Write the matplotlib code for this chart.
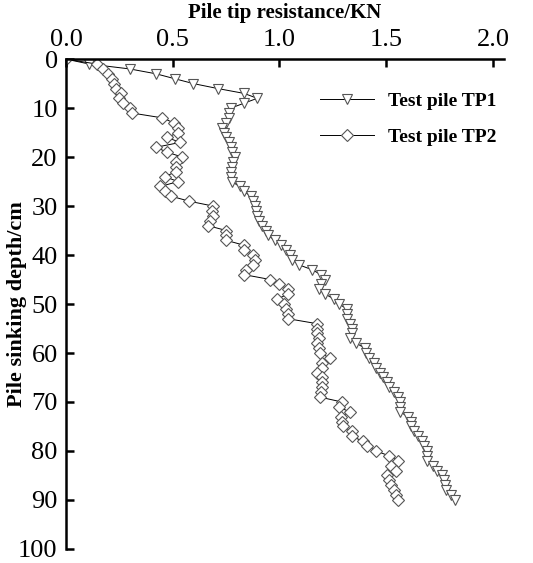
import matplotlib
matplotlib.use("Agg")
from matplotlib import pyplot as plt

# depth (cm), one reading per cm
depth = list(range(0, 91))

# Test pile TP1 - pile tip resistance (kN)
tp1 = [0.0, 0.108, 0.298, 0.422, 0.509, 0.597, 0.710, 0.834, 0.896, 0.834,
       0.772, 0.762, 0.762, 0.751, 0.731, 0.741, 0.751, 0.762, 0.772, 0.777,
       0.793, 0.782, 0.777, 0.772, 0.772, 0.777, 0.813, 0.834, 0.865, 0.875,
       0.885, 0.890, 0.896, 0.906, 0.916, 0.937, 0.947, 0.978, 1.009, 1.030,
       1.050, 1.060, 1.091, 1.153, 1.194, 1.215, 1.194, 1.184, 1.215, 1.256,
       1.277, 1.318, 1.318, 1.318, 1.328, 1.339, 1.339, 1.328, 1.359, 1.400,
       1.406, 1.421, 1.442, 1.452, 1.473, 1.483, 1.504, 1.514, 1.534, 1.555,
       1.565, 1.565, 1.565, 1.601, 1.617, 1.617, 1.632, 1.648, 1.668, 1.679,
       1.689, 1.689, 1.689, 1.720, 1.740, 1.761, 1.771, 1.777, 1.782, 1.802,
       1.823]

# Test pile TP2
tp2 = [0.0, 0.143, 0.174, 0.195, 0.215, 0.226, 0.236, 0.257, 0.246, 0.267,
       0.298, 0.308, 0.452, 0.504, 0.525, 0.525, 0.473, 0.535, 0.422, 0.473,
       0.545, 0.514, 0.514, 0.514, 0.463, 0.525, 0.442, 0.463, 0.494, 0.576,
       0.689, 0.684, 0.689, 0.674, 0.665, 0.751, 0.751, 0.751, 0.834, 0.834,
       0.875, 0.885, 0.875, 0.844, 0.834, 0.957, 0.999, 1.040, 1.040, 0.988,
       1.019, 1.030, 1.040, 1.040, 1.174, 1.174, 1.174, 1.184, 1.174, 1.184,
       1.189, 1.236, 1.200, 1.200, 1.174, 1.200, 1.200, 1.200, 1.194, 1.189,
       1.292, 1.277, 1.328, 1.287, 1.292, 1.297, 1.339, 1.339, 1.390, 1.411,
       1.452, 1.514, 1.555, 1.524, 1.545, 1.504, 1.514, 1.524, 1.534, 1.545,
       1.555]

x_ticks = [0.0, 0.5, 1.0, 1.5, 2.0]
y_ticks = list(range(0, 101, 10))

plt.rcParams['font.family'] = ['Liberation Serif', 'DejaVu Serif']

fig = plt.figure(figsize=(5.33, 5.63), dpi=100)
ax = fig.add_axes([0.1238, 0.025, 0.8212, 0.870])

ax.plot(tp1, depth, color='black', lw=0.7, marker='v', markersize=7,
        markerfacecolor='white', markeredgecolor='#555555', markeredgewidth=0.8,
        label='Test pile TP1')
ax.plot(tp2, depth, color='black', lw=0.7, marker='D', markersize=6,
        markerfacecolor='white', markeredgecolor='#555555', markeredgewidth=0.8,
        label='Test pile TP2')

ax.set_xlim(0, 2.05)
ax.set_ylim(100, 0)
ax.set_xticks(x_ticks)
ax.set_xticklabels([f'{v:.1f}' for v in x_ticks])
ax.set_yticks(y_ticks)

ax.xaxis.tick_top()
ax.xaxis.set_label_position('top')
ax.spines['right'].set_visible(False)
ax.spines['bottom'].set_visible(False)
ax.spines['top'].set_linewidth(1.8)
ax.spines['left'].set_linewidth(1.8)
ax.tick_params(axis='both', direction='in', length=6, width=1.8, labelsize=19)
ax.tick_params(axis='x', pad=6)
ax.tick_params(axis='y', pad=6)

ax.set_xlabel('Pile tip resistance/KN', fontsize=15, fontweight='bold', labelpad=8)
ax.set_ylabel('Pile sinking depth/cm', fontsize=16, fontweight='bold')
ax.yaxis.set_label_coords(-0.09, 0.5)

ax.legend(loc='upper left', bbox_to_anchor=(0.558, 0.952), frameon=False,
          prop={'size': 14, 'weight': 'bold'}, handlelength=2.8,
          labelspacing=0.95, borderpad=0, handletextpad=0.7)

plt.savefig('out.png', dpi=100)
